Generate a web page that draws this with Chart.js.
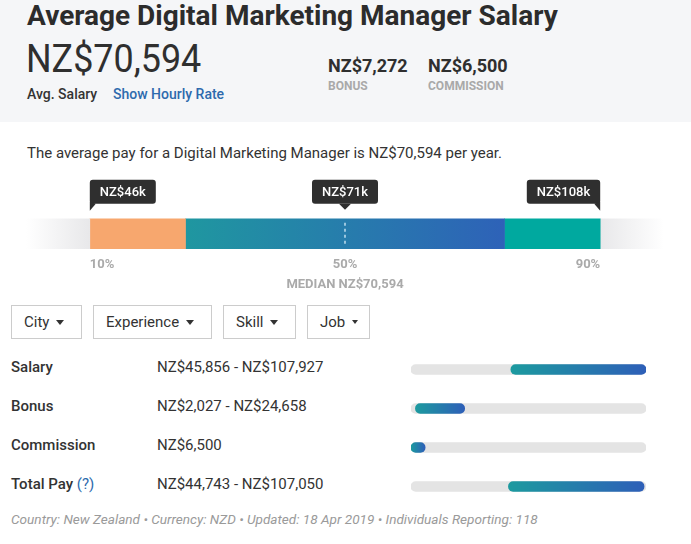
<!DOCTYPE html>
<html><head><meta charset="utf-8">
<script src="https://cdn.jsdelivr.net/npm/chart.js@4.4.1/dist/chart.umd.min.js"></script>
<style>
body{margin:0;width:691px;height:544px;background:#fff;font-family:Roboto,"Noto Sans",sans-serif;color:#333;position:relative;overflow:hidden}
.hdr{position:absolute;left:0;top:0;width:691px;height:122px;background:#f5f6f8}
.t{position:absolute;white-space:nowrap;line-height:1;transform-origin:left top}
.btn{position:absolute;top:305px;height:34px;border:1px solid #ccc;box-sizing:border-box;font-size:15px;line-height:32px;text-align:left;padding-left:12px;color:#333}
.car{display:inline-block;width:0;height:0;border-left:4px solid transparent;border-right:4px solid transparent;border-top:5px solid #333;vertical-align:middle;margin-left:7px;margin-top:-2px}
.car.s{border-left-width:3px;border-right-width:3px;border-top-width:4px}
.lbl{font-size:15px;font-weight:500}
.rng{font-size:15px}
</style></head>
<body>
<div class="hdr"></div>
<div class="t" style="left:27px;top:2px;font-size:28px;font-weight:700;color:#2c2c2c">Average Digital Marketing Manager Salary</div>
<div class="t" style="left:26px;top:40px;font-size:38px;font-weight:400;color:#2f2f2f;transform:scaleX(0.945)">NZ$70,594</div>
<div class="t" style="left:27px;top:87px;font-size:14px;font-weight:500;color:#333">Avg. Salary</div>
<div class="t" style="left:113px;top:87px;font-size:14px;font-weight:500;color:#2d6aad">Show Hourly Rate</div>
<div class="t" style="left:328px;top:57px;font-size:18px;font-weight:700;color:#2f2f2f">NZ$7,272</div>
<div class="t" style="left:328px;top:80px;font-size:12px;font-weight:700;color:#a9a9a9">BONUS</div>
<div class="t" style="left:428px;top:57px;font-size:18px;font-weight:700;color:#2f2f2f">NZ$6,500</div>
<div class="t" style="left:428px;top:80px;font-size:12px;font-weight:700;color:#a9a9a9">COMMISSION</div>
<div class="t" style="left:27px;top:146px;font-size:15px;color:#333">The average pay for a Digital Marketing Manager is NZ$70,594 per year.</div>

<div style="position:absolute;left:0;top:170px;width:691px;height:125px"><canvas id="main" width="691" height="125"></canvas></div>

<div class="btn" style="left:11px;width:71px">City<span class="car"></span></div>
<div class="btn" style="left:93px;width:119px">Experience<span class="car"></span></div>
<div class="btn" style="left:223px;width:73px">Skill<span class="car"></span></div>
<div class="btn" style="left:307px;width:63px">Job<span class="car s"></span></div>

<div id="rows"></div>
<div style="position:absolute;left:401px;top:350px;width:255px;height:156px"><canvas id="rng" width="255" height="156"></canvas></div>

<div class="t" style="left:11px;top:513px;font-size:13.6px;font-style:italic;color:#9a9a9a">Country: New Zealand • Currency: NZD • Updated: 18 Apr 2019 • Individuals Reporting: 118</div>

<script>
// ---- data ----
const segmentStarts = [0, 10, 25, 75, 90];      // percentile
const segmentEnds   = [10, 25, 75, 90, 100];
const tickPercentiles = [10, 50, 90];
const calloutPercentiles = [10, 50, 90];
const calloutLabels = ['NZ$46k', 'NZ$71k', 'NZ$108k'];
const medianLabel = 'MEDIAN NZ$70,594';

const rowLabels = ['Salary', 'Bonus', 'Commission', 'Total Pay'];
const rangeLow  = [45856, 2027, 0, 44743];
const rangeHigh = [107927, 24658, 6500, 107050];
const rangeText = ['NZ$45,856 - NZ$107,927', 'NZ$2,027 - NZ$24,658', 'NZ$6,500', 'NZ$44,743 - NZ$107,050'];

// ---- rows text ----
const rowsEl = document.getElementById('rows');
rowLabels.forEach((l, i) => {
  const top = 360 + i * 39;
  const a = document.createElement('div');
  a.className = 't lbl'; a.style.left = '11px'; a.style.top = top + 'px';
  a.innerHTML = l + (l === 'Total Pay' ? ' <span style="font-weight:400;color:#2d6aad">(?)</span>' : '');
  rowsEl.appendChild(a);
  const b = document.createElement('div');
  b.className = 't rng'; b.style.left = '157px'; b.style.top = top + 'px';
  b.textContent = rangeText[i];
  rowsEl.appendChild(b);
});

function grad(c, from, to, c0, c1) {
  const ch = c.chart;
  if (!ch.chartArea) return c1;
  const x = ch.scales.x;
  const g = ch.ctx.createLinearGradient(x.getPixelForValue(from), 0, x.getPixelForValue(to), 0);
  g.addColorStop(0, c0); g.addColorStop(1, c1);
  return g;
}

const segColors = [
  c => grad(c, c.raw[0], c.raw[1], 'rgba(232,232,234,0)', '#e8e8ea'),
  () => '#f7a76e',
  c => grad(c, c.raw[0], c.raw[1], '#1f97a0', '#2e62b8'),
  () => '#00a99f',
  c => grad(c, c.raw[0], c.raw[1], '#e8e8ea', 'rgba(232,232,234,0)')
];

const calloutPlugin = {
  id: 'callouts',
  afterDatasetsDraw(chart) {
    const { ctx, scales: { x } } = chart;
    const el = chart.getDatasetMeta(2).data[0];
    const top = el.y - el.height / 2, bot = el.y + el.height / 2;
    ctx.save();
    const mx = x.getPixelForValue(50);
    ctx.strokeStyle = 'rgba(220,240,250,0.85)'; ctx.lineWidth = 1.5; ctx.setLineDash([3, 3]);
    ctx.beginPath(); ctx.moveTo(mx, top + 4); ctx.lineTo(mx, bot - 4); ctx.stroke();
    ctx.setLineDash([]);
    ctx.font = '500 13px Roboto';
    ctx.textBaseline = 'middle';
    calloutPercentiles.forEach((p, i) => {
      const px = x.getPixelForValue(p);
      const w = ctx.measureText(calloutLabels[i]).width + 20;
      const h = 24, b = top - 15, t0 = b - h;
      let l = i === 0 ? px : (i === calloutPercentiles.length - 1 ? px - w : px - w / 2);
      ctx.fillStyle = '#2f2f2f';
      ctx.beginPath(); ctx.roundRect(l, t0, w, h, 3); ctx.fill();
      ctx.beginPath();
      if (i === 0) { ctx.moveTo(px, b - 2); ctx.lineTo(px + 6, b); ctx.lineTo(px, b + 7); }
      else if (i === calloutPercentiles.length - 1) { ctx.moveTo(px, b - 2); ctx.lineTo(px - 6, b); ctx.lineTo(px, b + 7); }
      else { ctx.moveTo(px - 6, b); ctx.lineTo(px + 6, b); ctx.lineTo(px, b + 6); }
      ctx.closePath(); ctx.fill();
      ctx.fillStyle = '#fff'; ctx.textAlign = 'center';
      ctx.fillText(calloutLabels[i], l + w / 2, t0 + h / 2 + 1);
    });
    ctx.restore();
  }
};

new Chart(document.getElementById('main'), {
  type: 'bar',
  data: {
    labels: ['pay'],
    datasets: segmentStarts.map((s, i) => ({
      data: [[s, segmentEnds[i]]],
      backgroundColor: segColors[i],
      barThickness: 30,
      grouped: false,
      borderWidth: 0
    }))
  },
  options: {
    indexAxis: 'y', responsive: false, animation: false, events: [],
    layout: { padding: { left: 26, right: 27, top: 44, bottom: 2 } },
    plugins: { legend: { display: false }, tooltip: { enabled: false } },
    scales: {
      y: { display: false },
      x: {
        min: 0, max: 100,
        grid: { display: false, drawTicks: false }, border: { display: false },
        afterBuildTicks: s => { s.ticks = tickPercentiles.map(v => ({ value: v })); },
        ticks: { align: 'inner', padding: 3, autoSkip: false, maxRotation: 0, color: '#aaaaaa',
                 font: { family: 'Roboto', size: 13, weight: 'bold' }, callback: v => v + '%' },
        title: { display: true, text: medianLabel, color: '#aaaaaa', padding: { top: 6, bottom: 0 },
                 font: { family: 'Roboto', size: 13, weight: 'bold' } }
      }
    }
  },
  plugins: [calloutPlugin]
});

const scaleMax = Math.max(...rangeHigh);
new Chart(document.getElementById('rng'), {
  type: 'bar',
  data: {
    labels: rowLabels,
    datasets: [
      { data: rangeLow.map((v, i) => [v, rangeHigh[i]]),
        backgroundColor: c => grad(c, c.raw[0], c.raw[1], '#1c9a9f', '#2e5fb8'),
        borderRadius: 5, borderSkipped: false, barThickness: 10, grouped: false, order: 0 },
      { data: rowLabels.map(() => [0, scaleMax]), backgroundColor: '#e4e4e4',
        borderRadius: 5, borderSkipped: false, barThickness: 10, grouped: false, order: 1 }
    ]
  },
  options: {
    indexAxis: 'y', responsive: false, animation: false, events: [],
    layout: { padding: { left: 10, right: 10, top: 0, bottom: 0 } },
    plugins: { legend: { display: false }, tooltip: { enabled: false } },
    scales: { x: { display: false, min: 0, max: scaleMax }, y: { display: false } }
  }
});
</script>
</body></html>
